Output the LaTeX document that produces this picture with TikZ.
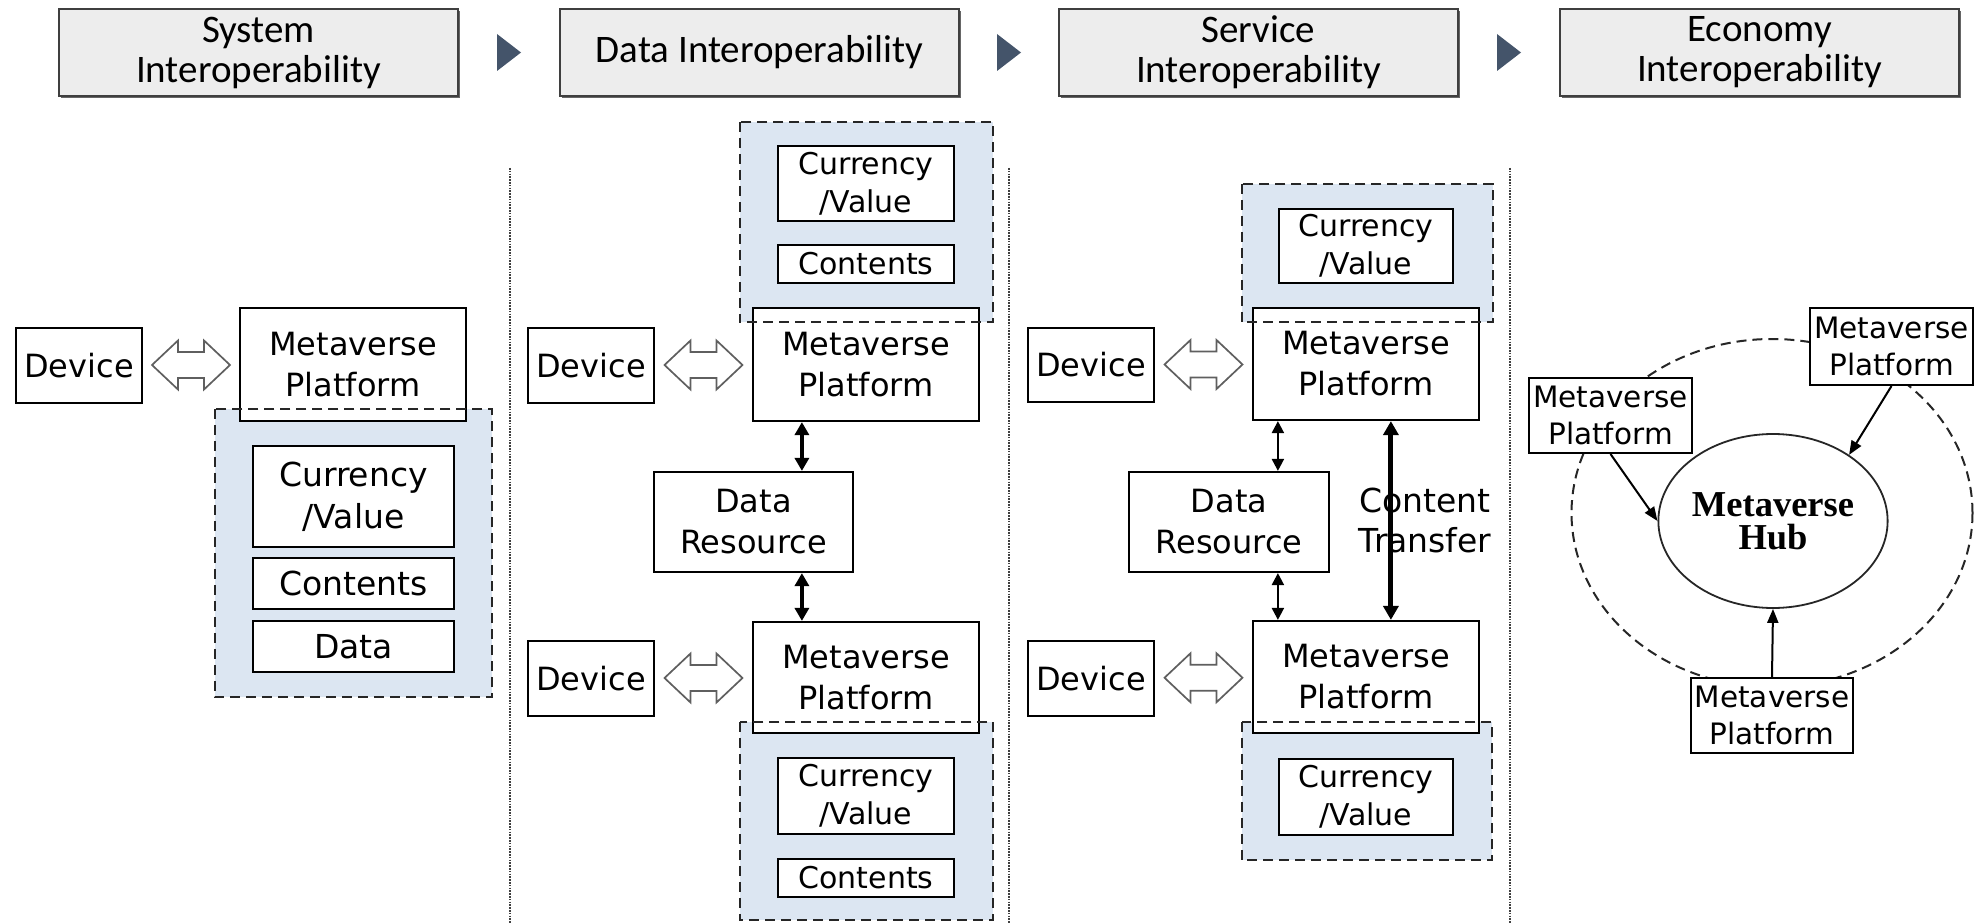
\documentclass[tikz,border=0pt]{standalone}
\usepackage{fontspec}
\setmainfont{DejaVu Sans}
\newfontfamily\headfont{Carlito}
\newfontfamily\hubfont{Liberation Serif}
\usetikzlibrary{arrows.meta,shapes.geometric,shadows,calc}

\definecolor{headfill}{HTML}{EDEDED}
\definecolor{headline}{HTML}{3F3F3F}
\definecolor{chevron}{HTML}{44546A}
\definecolor{groupfill}{HTML}{DCE6F2}
\definecolor{hollowline}{HTML}{5F5F5F}

% hollow two-way arrow centred on a coordinate
\newcommand{\hollowarrow}[1]{%
  \draw[hollow] (#1) ++(-39,0) -- ++(26,24.5) -- ++(0,-11.5) -- ++(26,0)
    -- ++(0,11.5) -- ++(26,-24.5) -- ++(-26,-24.5) -- ++(0,11.5)
    -- ++(-26,0) -- ++(0,-11.5) -- cycle;}

% small chevron centred on a coordinate
\newcommand{\chevronmark}[1]{%
  \fill[chevron] (#1) ++(-12,-18.5) -- ++(24,18.5) -- ++(-24,18.5) -- cycle;}

\begin{document}
\begin{tikzpicture}[x=1pt,y=-1pt,
  head/.style={draw=headline, line width=1.8pt, fill=headfill,
    minimum width=399, minimum height=87, inner sep=0, align=center,
    font=\headfont\fontsize{39}{40}\selectfont,
    drop shadow={shadow xshift=1.8pt, shadow yshift=-1.8pt, opacity=0.8, fill=black!75}},
  box/.style={draw=black, line width=2.2pt, fill=white, inner sep=0,
    align=center, font=\fontsize{32}{41}\selectfont},
  smallbox/.style={box, font=\fontsize{30}{38}\selectfont},
  hubbox/.style={box, line width=2pt, font=\fontsize{29.5}{37}\selectfont},
  groupbg/.style={fill=groupfill, inner sep=0},
  group/.style={draw=black!85, line width=2.2pt, dash pattern=on 10pt off 6pt},
  hollow/.style={draw=hollowline, line width=1.7pt, fill=white, line join=miter},
  divider/.style={draw=black!75, line width=2pt, dash pattern=on 1.6pt off 1.2pt},
  heavy/.style={line width=4pt, {Triangle[width=14pt,length=13pt]}-{Triangle[width=14pt,length=13pt]}},
  light/.style={line width=2.2pt, {Triangle[width=12pt,length=12pt]}-{Triangle[width=12pt,length=12pt]}},
  transfer/.style={line width=5pt, {Triangle[width=15pt,length=14pt]}-{Triangle[width=15pt,length=14pt]}},
  feed/.style={line width=2pt, -{Triangle[width=11pt,length=14pt]}},
]
\useasboundingbox (0,0) rectangle (1974,923);

% ---------- stage headers ----------
\node[head] (h1) at (258.5,52.5) {System\\Interoperability};
\node[head] (h2) at (759.5,52.5) {Data Interoperability};
\node[head] (h3) at (1258.5,52.5) {Service\\Interoperability};
\node[head] (h4) at (1759.5,52.5) {Economy\\Interoperability};
\coordinate (c1) at ($(h1.east)!0.5!(h2.west)$);
\coordinate (c2) at ($(h2.east)!0.5!(h3.west)$);
\coordinate (c3) at ($(h3.east)!0.5!(h4.west)$);
\chevronmark{c1}
\chevronmark{c2}
\chevronmark{c3}

% ---------- column separators ----------
\draw[divider] (510,168) -- (510,923);
\draw[divider] (1009,168) -- (1009,923);
\draw[divider] (1510,168) -- (1510,923);

% ---------- system interoperability ----------
\node[groupbg, minimum width=277, minimum height=288] (g1) at (353.5,553) {};
\node[box, minimum width=126, minimum height=75] (dev1) at (79,365.5) {Device};
\node[box, minimum width=226, minimum height=113] (mp1) at (353,364.5) {Metaverse\\Platform};
\node[box, font=\fontsize{33}{42}\selectfont, minimum width=201, minimum height=101] (cur1) at (353.5,496.5) {Currency\\/Value};
\node[box, font=\fontsize{33}{42}\selectfont, minimum width=201, minimum height=51] (con1) at (353.5,583.5) {Contents};
\node[box, font=\fontsize{33}{42}\selectfont, minimum width=201, minimum height=51] (dat1) at (353.5,646.5) {Data};
\draw[group] (g1.north west) rectangle (g1.south east);
\coordinate (ha1) at ($(dev1.east)!0.5!(mp1.west)$);
\hollowarrow{ha1}

% ---------- data interoperability ----------
\node[groupbg, minimum width=253, minimum height=200] (g2a) at (866.5,222) {};
\node[groupbg, minimum width=253, minimum height=198] (g2b) at (866.5,821) {};
\node[smallbox, minimum width=176, minimum height=75] (cur2a) at (866,183.5) {Currency\\/Value};
\node[smallbox, minimum width=176, minimum height=38] (con2a) at (866,264) {Contents};
\node[box, minimum width=226, minimum height=113] (mp2a) at (866,364.5) {Metaverse\\Platform};
\node[box, minimum width=126, minimum height=75] (dev2a) at (591,365.5) {Device};
\node[box, minimum width=199, minimum height=100] (dr2) at (753.5,522) {Data\\Resource};
\node[box, minimum width=226, minimum height=111] (mp2b) at (866,677.5) {Metaverse\\Platform};
\node[box, minimum width=126, minimum height=75] (dev2b) at (591,678.5) {Device};
\node[smallbox, minimum width=176, minimum height=76] (cur2b) at (866,796) {Currency\\/Value};
\node[smallbox, minimum width=176, minimum height=38] (con2b) at (866,878) {Contents};
\draw[group] (g2a.north west) rectangle (g2a.south east);
\draw[group] (g2b.north west) rectangle (g2b.south east);
\coordinate (ha2) at ($(dev2a.east)!0.5!(mp2a.west)$);
\coordinate (ha3) at ($(dev2b.east)!0.5!(mp2b.west)$);
\hollowarrow{ha2}
\hollowarrow{ha3}
\coordinate (t2a) at ($(mp2a.south west)+(50,0)$);
\coordinate (t2b) at ($(mp2b.north west)+(50,0)$);
\draw[heavy] (t2a) -- (t2a |- dr2.north);
\draw[heavy] (t2a |- dr2.south) -- (t2b);

% ---------- service interoperability ----------
\node[groupbg, minimum width=251, minimum height=138] (g3a) at (1367.5,253) {};
\node[groupbg, minimum width=250, minimum height=138] (g3b) at (1367,791) {};
\node[smallbox, minimum width=174, minimum height=74] (cur3a) at (1366,246) {Currency\\/Value};
\node[box, minimum width=226, minimum height=112] (mp3a) at (1366,364) {Metaverse\\Platform};
\node[box, minimum width=126, minimum height=74] (dev3a) at (1091,365) {Device};
\node[box, minimum width=200, minimum height=100] (dr3) at (1229,522) {Data\\Resource};
\node[box, minimum width=226, minimum height=112] (mp3b) at (1366,677) {Metaverse\\Platform};
\node[box, minimum width=126, minimum height=75] (dev3b) at (1091,678.5) {Device};
\node[smallbox, minimum width=174, minimum height=76] (cur3b) at (1366,797) {Currency\\/Value};
\draw[group] (g3a.north west) rectangle (g3a.south east);
\draw[group] (g3b.north west) rectangle (g3b.south east);
\coordinate (ha4) at ($(dev3a.east)!0.5!(mp3a.west)$);
\coordinate (ha5) at ($(dev3b.east)!0.5!(mp3b.west)$);
\hollowarrow{ha4}
\hollowarrow{ha5}
\coordinate (t3a) at ($(mp3a.south west)+(26,0)$);
\coordinate (t3b) at ($(mp3b.north west)+(26,0)$);
\draw[light] (t3a) -- (t3a |- dr3.north);
\draw[light] (t3a |- dr3.south) -- (t3b);
\node[align=center, inner sep=0, font=\fontsize{33}{40}\selectfont] (ct) at (1425,520) {Content\\Transfer};
\coordinate (x3a) at ($(mp3a.south west)+(139,0)$);
\coordinate (x3b) at ($(mp3b.north west)+(139,0)$);
\draw[transfer] (x3a) -- (x3b);

% ---------- economy interoperability ----------
\draw[black!85, line width=2pt, dash pattern=on 10pt off 6pt] (1772,513) ellipse [x radius=200.5, y radius=174];
\node[ellipse, draw=black!85, line width=1.8pt, fill=white, inner sep=0,
      minimum width=200, minimum height=174, align=center,
      font=\hubfont\bfseries\fontsize{36.5}{33}\selectfont] (hub) at (1773,521) {Metaverse\\Hub};
\node[hubbox, minimum width=163, minimum height=75] (lp) at (1610.5,415.5) {Metaverse\\Platform};
\node[hubbox, minimum width=163, minimum height=77] (tp) at (1891.5,346.5) {Metaverse\\Platform};
\node[hubbox, minimum width=162, minimum height=75] (bp) at (1772,715.5) {Metaverse\\Platform};
\draw[feed] (lp.south) -- (hub.west);
\draw[feed] (tp.south) -- (hub.41);
\draw[feed] (bp.north) -- (hub.south);
\end{tikzpicture}
\end{document}
